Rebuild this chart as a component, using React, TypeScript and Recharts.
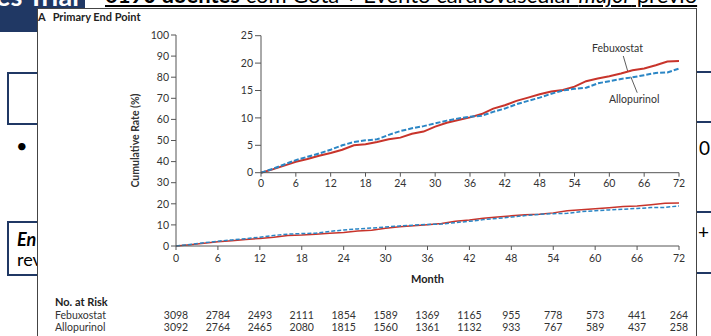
import { LineChart, Line, XAxis, YAxis, ReferenceLine } from "recharts";

// months sampled every 2 months
const months = [
  0, 2, 4, 6, 8, 10, 12, 14, 16, 18, 20, 22, 24, 26, 28, 30, 32, 34, 36,
  38, 40, 42, 44, 46, 48, 50, 52, 54, 56, 58, 60, 62, 64, 66, 68, 70, 72,
];
const febuxostat = [
  0, 0.6, 1.3, 2.0, 2.5, 3.1, 3.6, 4.2, 5.0, 5.2, 5.6, 6.1, 6.4, 7.1, 7.5,
  8.4, 9.1, 9.6, 10.1, 10.7, 11.7, 12.3, 13.1, 13.7, 14.3, 14.8, 15.1, 15.7,
  16.7, 17.2, 17.6, 18.1, 18.7, 19.0, 19.6, 20.3, 20.4,
];
const allopurinol = [
  0, 0.7, 1.5, 2.3, 2.9, 3.5, 4.2, 5.0, 5.6, 5.9, 6.1, 6.9, 7.6, 8.1, 8.5,
  9.0, 9.5, 9.9, 10.2, 10.4, 11.1, 11.7, 12.5, 13.1, 13.7, 14.4, 15.0, 15.3,
  15.5, 16.3, 16.7, 17.1, 17.4, 17.8, 18.2, 18.3, 19.0,
];

const tickMonths = [0, 6, 12, 18, 24, 30, 36, 42, 48, 54, 60, 66, 72];
const riskFebuxostat = [3098, 2784, 2493, 2111, 1854, 1589, 1369, 1165, 955, 778, 573, 441, 264];
const riskAllopurinol = [3092, 2764, 2465, 2080, 1815, 1560, 1361, 1132, 933, 767, 589, 437, 258];
const mainRateTicks = [0, 10, 20, 30, 40, 50, 60, 70, 80, 90, 100];
const insetRateTicks = [0, 5, 10, 15, 20, 25];

// leader lines for the inset labels (data coordinates)
const febLeader = [{ x: 62.4, y: 21.3 }, { x: 63.2, y: 18.4 }];
const alloLeader = [{ x: 63.7, y: 17.5 }, { x: 64.8, y: 14.6 }];

const data = months.map((m, i) => ({
  month: m,
  feb: febuxostat[i],
  allo: allopurinol[i],
}));

const RED = "#c8342b";
const BLUE = "#2b86c5";
const AXIS = "#555";
const FONT = "Lato, 'Open Sans', sans-serif";
const NAVY = "#203864";

const tickStyle = { fontSize: 10.5, fill: "#333", fontFamily: FONT };

function Slide() {
  return (
    <>
      <div style={{ position: "absolute", left: 0, top: 0, width: 85, height: 32, background: NAVY }} />
      <div style={{ position: "absolute", left: 0, top: 0, width: 85, height: 8, overflow: "hidden" }}>
        <div
          style={{
            position: "absolute", left: -4, top: -14, fontSize: 27, lineHeight: "20px",
            fontWeight: 700, color: "#fff", fontFamily: FONT, whiteSpace: "nowrap",
          }}
        >
          es Trial
        </div>
      </div>
      <div
        style={{
          position: "absolute", left: 105, top: -16, fontSize: 22, lineHeight: "22px",
          color: "#000", fontFamily: FONT, whiteSpace: "nowrap", textDecoration: "underline",
        }}
      >
        <b>6190 doentes</b> com Gota + Evento cardiovascular <i>major</i> prévio
      </div>
      {/* left boxes */}
      <div style={{ position: "absolute", left: 7, top: 72, width: 60, height: 49, border: `2px solid ${NAVY}` }} />
      <div style={{ position: "absolute", left: 16, top: 133, fontSize: 20, fontFamily: FONT }}>•</div>
      <div style={{ position: "absolute", left: 7, top: 221, width: 60, height: 51, border: `2px solid ${NAVY}` }} />
      <div style={{ position: "absolute", left: 17, top: 229, fontSize: 18, fontFamily: FONT, lineHeight: "20px" }}>
        <b><i>En</i></b>
        <br />
        rev
      </div>
      {/* right side fragments */}
      {[72, 122, 212, 273].map((y) => (
        <div key={y} style={{ position: "absolute", left: 696, top: y - 1, width: 20, height: 2, background: NAVY }} />
      ))}
      <div style={{ position: "absolute", left: 699, top: 136, fontSize: 19, fontFamily: FONT }}>0</div>
      <div style={{ position: "absolute", left: 698, top: 220, fontSize: 19, fontFamily: FONT }}>+</div>
    </>
  );
}

export default function App() {
  return (
    <div style={{ position: "absolute", left: 0, top: 0, width: 711, height: 336, overflow: "hidden", background: "#fff" }}>
      <Slide />
      <div
        style={{
          position: "absolute", left: 37, top: 8, width: 658, height: 340, background: "#fff",
          border: "1px solid #444",
        }}
      />
      <div style={{ position: "absolute", left: 38, top: 10, fontFamily: FONT, fontSize: 11, fontWeight: 700, color: "#222" }}>
        A<span style={{ marginLeft: 7 }}>Primary End Point</span>
      </div>
      <div style={{ position: "absolute", left: 55, top: 295, fontFamily: FONT, fontSize: 11, fontWeight: 700, color: "#222" }}>
        No. at Risk
      </div>
      <div style={{ position: "absolute", left: 55, top: 309, fontFamily: FONT, fontSize: 10.5, color: "#333", lineHeight: "12px" }}>
        Febuxostat
        <br />
        Allopurinol
      </div>

      {/* main chart 0-100 */}
      <div style={{ position: "absolute", left: 0, top: 0 }}>
        <LineChart width={711} height={336} data={data} margin={{ top: 35, right: 32, left: 126, bottom: 0 }}>
          <XAxis
            xAxisId="a_month"
            type="number"
            dataKey="month"
            domain={[0, 72]}
            ticks={tickMonths}
            interval={0}
            height={50}
            tickSize={4}
            tickMargin={5}
            stroke={AXIS}
            tick={tickStyle}
            label={{ value: "Month", position: "insideBottom", offset: 13, style: { fontWeight: 700, fontSize: 11, fill: "#222", fontFamily: FONT } }}
          />
          <XAxis
            xAxisId="b_feb"
            type="number"
            dataKey="month"
            domain={[0, 72]}
            ticks={tickMonths}
            interval={0}
            height={22}
            axisLine={false}
            tickLine={false}
            tickSize={0}
            tickMargin={16}
            tick={tickStyle}
            tickFormatter={(v: number) => String(riskFebuxostat[tickMonths.indexOf(v)])}
          />
          <XAxis
            xAxisId="c_allo"
            type="number"
            dataKey="month"
            domain={[0, 72]}
            ticks={tickMonths}
            interval={0}
            height={18}
            axisLine={false}
            tickLine={false}
            tickSize={0}
            tickMargin={6}
            tick={tickStyle}
            tickFormatter={(v: number) => String(riskAllopurinol[tickMonths.indexOf(v)])}
          />
          <YAxis
            type="number"
            domain={[0, 100]}
            ticks={mainRateTicks}
            interval={0}
            width={50}
            tickSize={5}
            tickMargin={2}
            stroke={AXIS}
            tick={tickStyle}
            label={{
              value: "Cumulative Rate (%)",
              angle: -90,
              position: "insideLeft",
              offset: 9,
              style: { textAnchor: "middle", fontWeight: 700, fontSize: 10.5, fill: "#333", fontFamily: FONT },
            }}
          />
          <Line xAxisId="a_month" dataKey="feb" stroke={RED} strokeWidth={1.5} dot={false} isAnimationActive={false} />
          <Line xAxisId="a_month" dataKey="allo" stroke={BLUE} strokeWidth={1.5} strokeDasharray="4 2" dot={false} isAnimationActive={false} />
        </LineChart>
      </div>

      {/* inset chart 0-25 */}
      <div style={{ position: "absolute", left: 200, top: 20 }}>
        <LineChart width={500} height={180} data={data} margin={{ top: 15.7, right: 21, left: 31, bottom: 7.3 }}>
          <XAxis
            type="number"
            dataKey="month"
            domain={[0, 72]}
            ticks={tickMonths}
            interval={0}
            height={20}
            tickSize={4}
            tickMargin={3}
            stroke={AXIS}
            tick={tickStyle}
          />
          <YAxis
            type="number"
            domain={[0, 25]}
            ticks={insetRateTicks}
            interval={0}
            width={30}
            tickSize={6}
            tickMargin={2}
            stroke={AXIS}
            tick={tickStyle}
          />
          <ReferenceLine segment={febLeader} stroke="#333" strokeWidth={0.8} />
          <ReferenceLine segment={alloLeader} stroke="#333" strokeWidth={0.8} />
          <Line dataKey="feb" stroke={RED} strokeWidth={2} dot={false} isAnimationActive={false} />
          <Line dataKey="allo" stroke={BLUE} strokeWidth={2} strokeDasharray="5 2" dot={false} isAnimationActive={false} />
        </LineChart>
      </div>
      <div style={{ position: "absolute", left: 592, top: 42, fontFamily: FONT, fontSize: 10.5, color: "#333" }}>Febuxostat</div>
      <div style={{ position: "absolute", left: 609, top: 93, fontFamily: FONT, fontSize: 10.5, color: "#333" }}>Allopurinol</div>
    </div>
  );
}
